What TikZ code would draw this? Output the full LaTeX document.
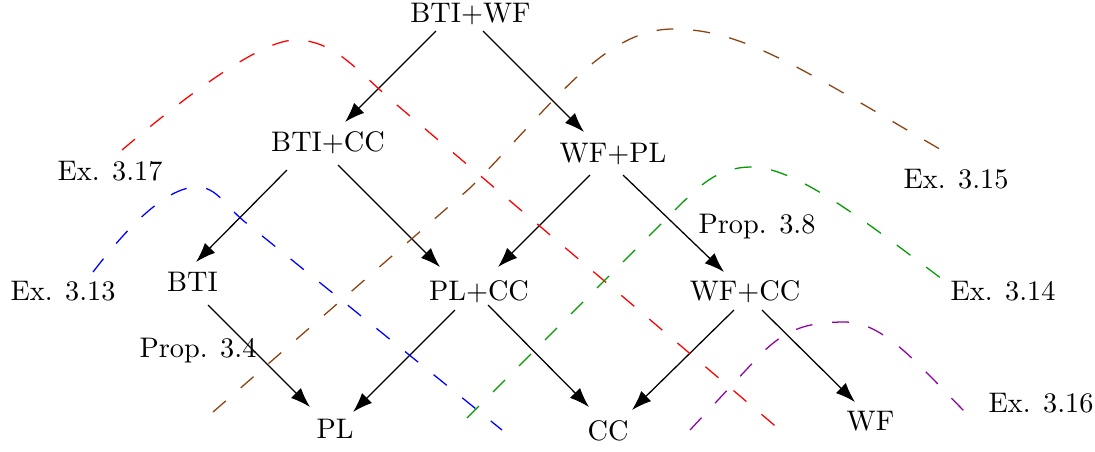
\documentclass[tikz,border=0pt]{standalone}
\usetikzlibrary{arrows.meta,calc}
\definecolor{cbrown}{RGB}{140,65,15}
\definecolor{cgreen}{RGB}{0,155,0}
\definecolor{cpurple}{RGB}{145,0,160}
\begin{document}
\begin{tikzpicture}[x=0.3534pt,y=-0.3534pt,
  tnode/.style={anchor=base},
  lbl/.style={anchor=base west,inner sep=0pt},
  arr/.style={-{Latex[length=7pt,width=5pt]},line width=0.45pt},
  dsh/.style={dash pattern=on 6pt off 7pt,line width=0.45pt}]
\path[use as bounding box] (0,0) rectangle (1095,451);
% nodes
\node[tnode] (btiwf) at (470.5,22) {BTI+WF};
\node[tnode] (btic) at (328,151.7) {BTI+CC};
\node[tnode] (wfpl) at (613,162) {WF+PL};
\node[tnode] (bti) at (192.5,291) {BTI};
\node[tnode] (plcc) at (479,300) {PL+CC};
\node[tnode] (wfcc) at (745,300) {WF+CC};
\node[tnode] (pl) at (335,438) {PL};
\node[tnode] (cc) at (608,440) {CC};
\node[tnode] (wf) at (870.5,430) {WF};
% labels
\node[lbl] (e17) at (57,180) {Ex. 3.17};
\node[lbl] (e13) at (10,300) {Ex. 3.13};
\node[lbl] (p34) at (139,357) {Prop. 3.4};
\node[lbl] (p38) at (698,233) {Prop. 3.8};
\node[lbl] (e15) at (903,188) {Ex. 3.15};
\node[lbl] (e14) at (950,300) {Ex. 3.14};
\node[lbl] (e16) at (988,412) {Ex. 3.16};
% arrows
\draw[arr] ($(btiwf.base)+(-34.5,9)$) -- ($(btic.base)+(17,-29.7)$);
\draw[arr] ($(btiwf.base)+(12.5,9)$) -- ($(wfpl.base)+(-29,-30)$);
\draw[arr] ($(btic.base)+(-41,18.3)$) -- ($(bti.base)+(3.5,-29)$);
\draw[arr] ($(btic.base)+(10,13.3)$) -- ($(plcc.base)+(-39,-33)$);
\draw[arr] ($(wfpl.base)+(-23,13)$) -- ($(plcc.base)+(19,-33)$);
\draw[arr] ($(wfpl.base)+(10,13)$) -- ($(wfcc.base)+(-21,-28)$);
\draw[arr] ($(bti.base)+(15.5,14)$) -- ($(pl.base)+(-25,-31)$);
\draw[arr] ($(plcc.base)+(-24,10)$) -- ($(pl.base)+(18,-26)$);
\draw[arr] ($(plcc.base)+(9,5)$) -- ($(cc.base)+(-19,-33)$);
\draw[arr] ($(wfcc.base)+(-11,10)$) -- ($(cc.base)+(24,-30)$);
\draw[arr] ($(wfcc.base)+(17,10)$) -- ($(wf.base)+(-15.5,-28)$);
% dashed curves
\draw[dsh,red] (122,150) .. controls (162,116) and (255,40) .. (295,40)
  .. controls (335,40) and (357,71) .. (397,105) -- (780,430);
\draw[dsh,blue] (93,272) .. controls (118,239.5) and (162,187) .. (197,187)
  .. controls (217,187) and (225,205.8) .. (245,222) -- (502,430);
\draw[dsh,cbrown] (213,412) -- (470,188) .. controls (550,108) and (603,29) .. (673,29)
  .. controls (743,29) and (800,68) .. (950,155);
\draw[dsh,cgreen] (467,418) -- (670,215) .. controls (700,185) and (717,167) .. (752,167)
  .. controls (797,167) and (872,226.5) .. (942,279);
\draw[dsh,cpurple] (690,430) -- (760,355) .. controls (785,330) and (805,322) .. (845,322)
  .. controls (885,322) and (920,367) .. (970,417);
\end{tikzpicture}
\end{document}
